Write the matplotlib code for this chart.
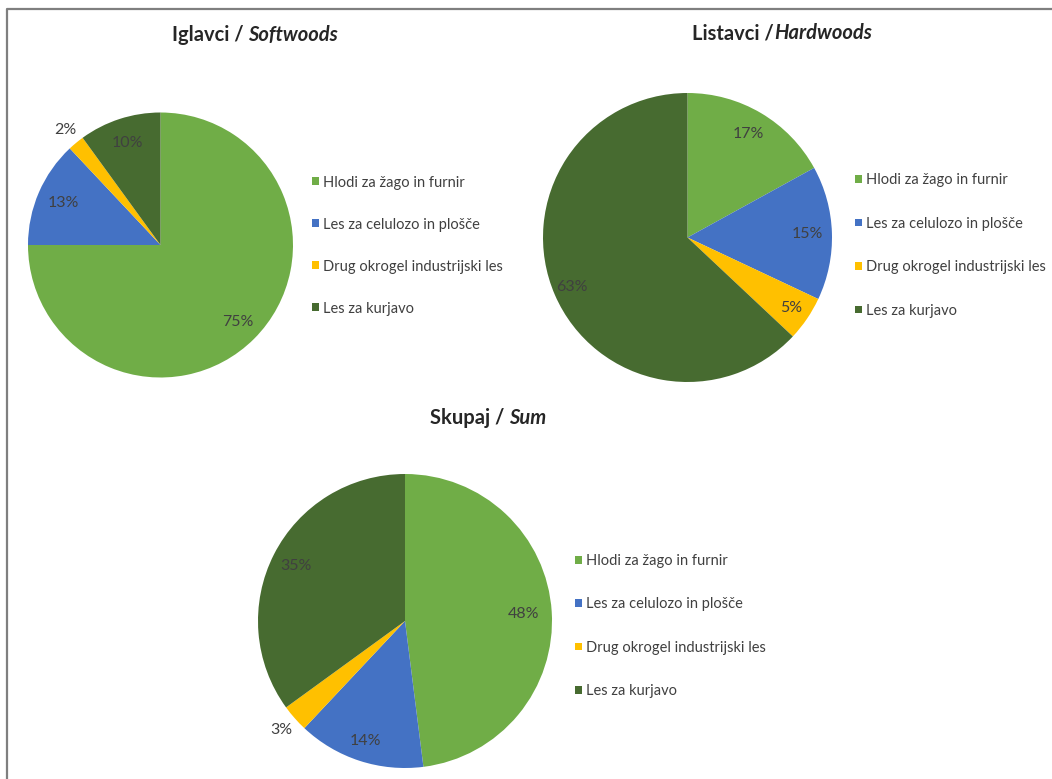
import numpy as np
import matplotlib
matplotlib.use("Agg")
import matplotlib.pyplot as plt
from matplotlib.patches import Patch
from matplotlib.lines import Line2D

plt.rcParams['font.family'] = ['Lato', 'DejaVu Sans']

# ---- data ----
categories = ["Hlodi za žago in furnir", "Les za celulozo in plošče",
              "Drug okrogel industrijski les", "Les za kurjavo"]
softwoods = [75, 13, 2, 10]
hardwoods = [17, 15, 5, 63]
total = [48, 14, 3, 35]
titles = [("Iglavci / ", "Softwoods"), ("Listavci /", "Hardwoods"), ("Skupaj / ", "Sum")]

colors = ["#70AD47", "#4472C4", "#FFC000", "#476B30"]
text_col = "#404040"

W, H = 1052, 779
fig = plt.figure(figsize=(W / 100, H / 100), dpi=100)
fig.patch.set_facecolor("white")

# frame
fig.add_artist(Line2D([7 / W, 7 / W, 1.0], [0.0, 1 - 9 / H, 1 - 9 / H],
                      transform=fig.transFigure, color="#7f7f7f", lw=1.6))

# layout (pixels)
layouts = [
    dict(cx=160.5, cy=245, R=132.5, d=[0.82, 0.80, 1.13, 0.81], lx=312, ly=245.5, ls=1.92, tx=172, ty=35),
    dict(cx=687.5, cy=237.5, R=144.5, d=[0.83, 0.83, 0.87, 0.87], lx=855, ly=245.5, ls=2.02, tx=692, ty=33),
    dict(cx=405, cy=621, R=147, d=[0.81, 0.86, 1.12, 0.83], lx=575, ly=626, ls=2.02, tx=430, ty=418),
]
series = [softwoods, hardwoods, total]

for vals, lay, (t1, t2) in zip(series, layouts, titles):
    cx, cy, R = lay["cx"], lay["cy"], lay["R"]
    ax = fig.add_axes([(cx - R) / W, (H - cy - R) / H, 2 * R / W, 2 * R / H])
    wedges, _ = ax.pie(vals, colors=colors, startangle=90, counterclock=False,
                       radius=1, wedgeprops=dict(linewidth=0))
    ax.set_xlim(-1, 1)
    ax.set_ylim(-1, 1)
    ax.axis("off")
    for w, v, d in zip(wedges, vals, lay["d"]):
        mid = np.deg2rad((w.theta1 + w.theta2) / 2)
        ax.text(d * np.cos(mid), d * np.sin(mid), f"{v}%", ha="center", va="center",
                fontsize=11.5, color=text_col)
    handles = [Patch(facecolor=c, edgecolor="none") for c in colors]
    fig.legend(handles, categories, loc="center left",
               bbox_to_anchor=(lay["lx"] / W, 1 - lay["ly"] / H),
               frameon=False, fontsize=10.5, labelcolor=text_col,
               handlelength=0.45, handleheight=0.45, handletextpad=0.3,
               labelspacing=lay["ls"], borderpad=0, borderaxespad=0)
    tt = fig.text(lay["tx"] / W, 1 - lay["ty"] / H, t1, ha="left", va="center",
                  fontsize=14.5, fontweight="bold", color="#262626")
    fig.add_artist(plt.Annotation(t2, xy=(1, 0), xycoords=tt, va="bottom", ha="left",
                                  fontsize=14.5, fontweight="bold", style="italic",
                                  color="#262626"))

fig.savefig("out.png", dpi=100)
